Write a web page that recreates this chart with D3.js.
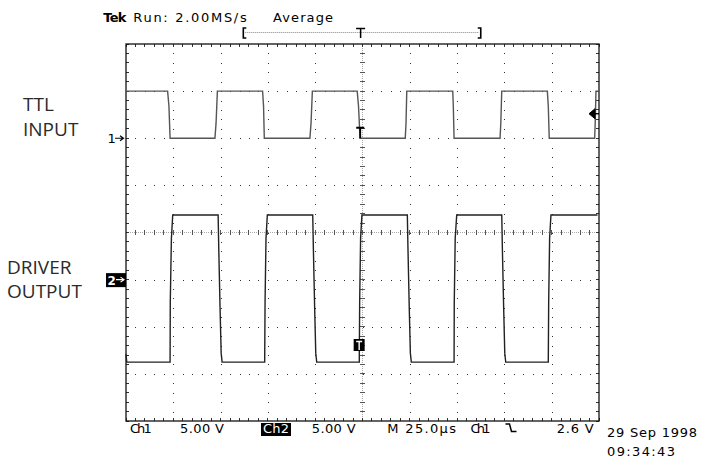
<!DOCTYPE html>
<html>
<head>
<meta charset="utf-8">
<script src="https://cdn.jsdelivr.net/npm/d3@7"></script>
<style>
  html, body { margin: 0; padding: 0; background: #fff; }
  svg { display: block; }
</style>
</head>
<body>
<svg id="scope" width="701" height="462"></svg>
<script>
'use strict';

/* ── Scope settings ───────────────────────────────────────── */
const TIME_PER_DIV   = 25;        // µs / div
const VOLTS_PER_DIV  = [5, 5];    // ch1, ch2
const CH_OFFSET_DIV  = [2, -1];   // ground marker position in divisions
const TRIG_LEVEL     = 2.6;       // V on ch1

/* ── Waveforms: [time µs, volts] ──────────────────────────── */
const ch1Points = [
  [-125.0, 5.0], [-103.0, 5.0], [-102.3, 3.4], [-101.7, 0.0],
  [-78.0, 0.0], [-77.4, 1.6], [-76.7, 5.0],
  [-52.8, 5.0], [-52.3, 3.4], [-51.9, 0.0],
  [-27.8, 0.0], [-27.2, 1.6], [-26.5, 5.0],
  [-2.8, 5.0], [-2.1, 3.4], [-1.3, 0.0],
  [22.6, 0.0], [23.0, 1.6], [23.4, 5.0],
  [47.7, 5.0], [48.0, 3.4], [48.4, 0.0],
  [72.7, 0.0], [73.1, 1.6], [73.6, 5.0],
  [97.7, 5.0], [98.2, 3.4], [98.7, 0.0],
  [122.7, 0.0], [123.0, 1.6], [123.4, 5.0],
  [125.0, 5.0]
];

const ch2Points = [
  [-125.0, -7.9], [-124.6, -8.75],
  [-101.7, -8.75], [-101.6, -2.4], [-101.0, 4.4], [-100.3, 6.85],
  [-76.3, 6.85], [-76.0, 3.6], [-75.3, -2.9], [-74.7, -7.8], [-74.2, -8.75],
  [-51.7, -8.75], [-51.5, -2.4], [-51.0, 4.4], [-50.3, 6.85],
  [-26.3, 6.85], [-26.0, 3.6], [-25.3, -2.9], [-24.7, -7.8], [-24.2, -8.75],
  [-1.7, -8.75], [-1.5, -2.4], [-1.0, 4.4], [-0.3, 6.85],
  [23.7, 6.85], [24.0, 3.6], [24.7, -2.9], [25.3, -7.8], [25.8, -8.75],
  [48.4, -8.75], [48.5, -2.4], [49.0, 4.4], [49.8, 6.85],
  [73.6, 6.85], [73.9, 3.6], [74.6, -2.9], [75.2, -7.8], [75.7, -8.75],
  [98.2, -8.75], [98.4, -2.4], [98.9, 4.4], [99.6, 6.85],
  [124.2, 6.85]
];

/* ── Texts ────────────────────────────────────────────────── */
const headerTexts  = ['Tek', 'Run: 2.00MS/s', 'Average'];
const readoutTexts = ['Ch1', '5.00 V', 'Ch2', '5.00 V', 'M 25.0µs', 'Ch1', '2.6 V'];
const stampTexts   = ['29 Sep 1998', '09:34:43'];
const channelLabels = [['TTL', 'INPUT'], ['DRIVER', 'OUTPUT']];

/* ── Layout ───────────────────────────────────────────────── */
const svg = d3.select('#scope');
const L = 126, R = 599, T = 44, B = 421;
const MONO = '"DejaVu Sans", sans-serif';

const x  = d3.scaleLinear().domain([-5 * TIME_PER_DIV, 5 * TIME_PER_DIV]).range([L, R]);
const yd = d3.scaleLinear().domain([-4, 4]).range([B, T]);
const yCh = ci => v => yd(CH_OFFSET_DIV[ci] + v / VOLTS_PER_DIV[ci]);

const xMajor = d3.range(-4, 5).map(d => d * TIME_PER_DIV);           // internal divisions
const xMinor = d3.range(-25, 26).map(d => d * TIME_PER_DIV / 5);
const yMajor = d3.range(-3, 4);
const yMinor = d3.range(-20, 21).map(d => d / 5);

/* ── Graticule ────────────────────────────────────────────── */
const grid = svg.append('g').attr('shape-rendering', 'crispEdges');

// dotted division lines
xMajor.filter(t => t !== 0).forEach(t => {
  grid.selectAll(null).data(yMinor.slice(1, -1)).join('rect')
    .attr('x', Math.round(x(t)) - 0.5).attr('y', d => Math.round(yd(d)) - 0.5)
    .attr('width', 1).attr('height', 1).attr('fill', '#333');
});
yMajor.filter(v => v !== 0).forEach(v => {
  grid.selectAll(null).data(xMinor.slice(1, -1)).join('rect')
    .attr('x', d => Math.round(x(d)) - 0.5).attr('y', Math.round(yd(v)) - 0.5)
    .attr('width', 1).attr('height', 1).attr('fill', '#333');
});

// centre cross-hair
grid.append('line')
  .attr('x1', x(0)).attr('x2', x(0)).attr('y1', T).attr('y2', B)
  .attr('stroke', '#aaa').attr('stroke-dasharray', '1 1');
grid.append('line')
  .attr('x1', L).attr('x2', R).attr('y1', yd(0)).attr('y2', yd(0))
  .attr('stroke', '#aaa').attr('stroke-dasharray', '1 1');
grid.selectAll(null).data(yMinor.slice(1, -1)).join('line')
  .attr('x1', x(0) - 2.5).attr('x2', x(0) + 2.5)
  .attr('y1', d => yd(d)).attr('y2', d => yd(d))
  .attr('stroke', '#555');
grid.selectAll(null).data(xMinor.slice(1, -1)).join('line')
  .attr('y1', yd(0) - 2.5).attr('y2', yd(0) + 2.5)
  .attr('x1', d => x(d)).attr('x2', d => x(d))
  .attr('stroke', '#555');

// frame edge ticks
const tk = 3;
grid.selectAll(null).data(xMinor).join('line')
  .attr('x1', d => x(d)).attr('x2', d => x(d)).attr('y1', T).attr('y2', T + tk).attr('stroke', '#333');
grid.selectAll(null).data(xMinor).join('line')
  .attr('x1', d => x(d)).attr('x2', d => x(d)).attr('y1', B).attr('y2', B - tk).attr('stroke', '#333');
grid.selectAll(null).data(yMinor).join('line')
  .attr('y1', d => yd(d)).attr('y2', d => yd(d)).attr('x1', L).attr('x2', L + tk).attr('stroke', '#333');
grid.selectAll(null).data(yMinor).join('line')
  .attr('y1', d => yd(d)).attr('y2', d => yd(d)).attr('x1', R).attr('x2', R - tk).attr('stroke', '#333');

svg.append('rect')
  .attr('x', L).attr('y', T).attr('width', R - L).attr('height', B - T)
  .attr('fill', 'none').attr('stroke', '#111').attr('stroke-width', 1.3);

/* ── Waveforms ────────────────────────────────────────────── */
const wave = (pts, ci) => d3.line().x(d => x(d[0])).y(d => yCh(ci)(d[1]))(pts);

svg.append('path').attr('d', wave(ch1Points, 0))
  .attr('fill', 'none').attr('stroke', '#555').attr('stroke-width', 1.4);
svg.append('path').attr('d', wave(ch2Points, 1))
  .attr('fill', 'none').attr('stroke', '#222').attr('stroke-width', 1.4);

/* ── Trigger / record markers ─────────────────────────────── */
const recL = x(-63), recR = x(62.5), recY = 32.5;
svg.append('line').attr('x1', recL + 2).attr('x2', recR - 2).attr('y1', recY).attr('y2', recY)
  .attr('stroke', '#888').attr('stroke-dasharray', '1 1');
svg.append('path')
  .attr('d', `M${recL + 3},28 H${recL} V38 H${recL + 3} M${recR - 3},28 H${recR} V38 H${recR - 3}`)
  .attr('fill', 'none').attr('stroke', '#000').attr('stroke-width', 1.6);
svg.append('path')
  .attr('d', `M${x(-1) - 4.5},28.5 H${x(-1) + 4.5} M${x(-1)},28.5 V38`)
  .attr('fill', 'none').attr('stroke', '#000').attr('stroke-width', 1.5);

// ch1 trigger point
const t1x = x(-1.2), t1y = yCh(0)(0);
svg.append('path')
  .attr('d', `M${t1x - 4},${t1y - 10.5} H${t1x + 4} M${t1x},${t1y - 10.5} V${t1y}`)
  .attr('fill', 'none').attr('stroke', '#000').attr('stroke-width', 1.8);

// ch2 trigger box
const t2x = x(-1.5), t2y = 345;
svg.append('rect').attr('x', t2x - 6).attr('y', t2y - 6).attr('width', 11).attr('height', 12).attr('fill', '#000');
svg.append('path')
  .attr('d', `M${t2x - 3.5},${t2y - 3.5} H${t2x + 2.5} M${t2x - 0.5},${t2y - 3.5} V${t2y + 5}`)
  .attr('fill', 'none').attr('stroke', '#fff').attr('stroke-width', 1.4);

// trigger level arrow
const tl = yCh(0)(TRIG_LEVEL);
svg.append('path')
  .attr('d', `M${R},${tl} H${R - 4} V${tl - 5} L${R - 10},${tl} L${R - 4},${tl + 5} V${tl} Z`)
  .attr('fill', '#000').attr('stroke', '#000').attr('stroke-width', 1);

// channel ground markers
const g1 = yCh(0)(0), g2 = yCh(1)(0);
svg.append('text').attr('x', 107.5).attr('y', g1 + 5)
  .attr('font-family', MONO).attr('font-size', 13).attr('fill', '#000').text('1');
svg.append('path').attr('d', `M115,${g1} H123 M120,${g1 - 2.5} L123.5,${g1} L120,${g1 + 2.5}`)
  .attr('fill', 'none').attr('stroke', '#000').attr('stroke-width', 1.2);
svg.append('rect').attr('x', 106).attr('y', g2 - 6.5).attr('width', 20).attr('height', 14).attr('fill', '#000');
svg.append('text').attr('x', 107.5).attr('y', g2 + 5)
  .attr('font-family', MONO).attr('font-weight', 'bold').attr('font-size', 12).attr('fill', '#fff').text('2');
svg.append('path').attr('d', `M116,${g2} H123.5 M120.5,${g2 - 2.5} L124,${g2} L120.5,${g2 + 2.5}`)
  .attr('fill', 'none').attr('stroke', '#fff').attr('stroke-width', 1.2);

/* ── Header ───────────────────────────────────────────────── */
const headerLayout = [
  { x: 103.3, w: 23,   bold: true },
  { x: 133.3, w: 113.4 },
  { x: 273,   w: 60 }
];
headerTexts.forEach((s, i) => {
  const o = headerLayout[i];
  svg.append('text')
    .attr('x', o.x).attr('y', 22)
    .attr('font-family', MONO).attr('font-size', 13)
    .attr('font-weight', o.bold ? 'bold' : 'normal')
    .attr('textLength', o.w).attr('lengthAdjust', 'spacing')
    .attr('fill', '#000').text(s);
});

/* ── Bottom readout ───────────────────────────────────────── */
const readoutLayout = [
  { x: 130,   w: 21.7 },
  { x: 180,   w: 44 },
  { x: 263,   w: 26, inverse: true },
  { x: 311.7, w: 44 },
  { x: 387.3, w: 68.7 },
  { x: 470.5, w: 20 },
  { x: 556.7, w: 37 }
];
svg.append('rect').attr('x', 261).attr('y', 423).attr('width', 30).attr('height', 13).attr('fill', '#000');
readoutTexts.forEach((s, i) => {
  const o = readoutLayout[i];
  svg.append('text')
    .attr('x', o.x).attr('y', 433)
    .attr('font-family', MONO).attr('font-size', 13)
    .attr('textLength', o.w).attr('lengthAdjust', 'spacing')
    .attr('fill', o.inverse ? '#fff' : '#000').text(s);
});
// falling-slope symbol
svg.append('path').attr('d', 'M505.5,424 H509.5 L511.5,431.5 H516.5')
  .attr('fill', 'none').attr('stroke', '#000').attr('stroke-width', 1.5);

/* ── Date stamp ───────────────────────────────────────────── */
const stampLayout = [{ y: 436.5, w: 90 }, { y: 456, w: 68 }];
stampTexts.forEach((s, i) => {
  svg.append('text')
    .attr('x', 607).attr('y', stampLayout[i].y)
    .attr('font-family', MONO).attr('font-size', 13)
    .attr('textLength', stampLayout[i].w).attr('lengthAdjust', 'spacing')
    .attr('fill', '#000').text(s);
});

/* ── Channel labels ───────────────────────────────────────── */
const labelLayout = [{ x: 23, y: [110.5, 135.5] }, { x: 7, y: [273.5, 297.5] }];
channelLabels.forEach((lines, ci) => {
  lines.forEach((s, li) => {
    svg.append('text')
      .attr('x', labelLayout[ci].x).attr('y', labelLayout[ci].y[li])
      .attr('font-family', '"Open Sans", sans-serif').attr('font-size', 19)
      .attr('fill', '#2a2a2a').text(s);
  });
});
</script>
</body>
</html>
